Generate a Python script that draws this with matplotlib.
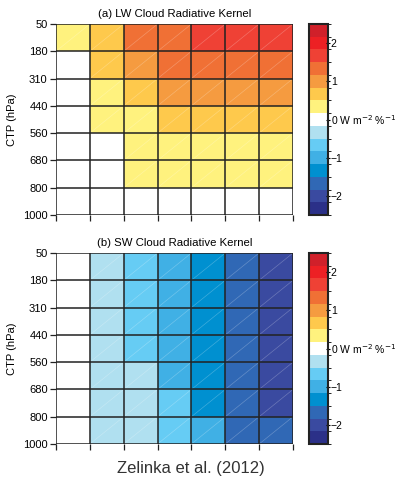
import numpy as np
import matplotlib
matplotlib.use("Agg")
import matplotlib.pyplot as plt
from matplotlib.colors import ListedColormap, BoundaryNorm

plt.rcParams['font.family'] = ['Liberation Sans', 'DejaVu Sans']

ctp_labels = ['50', '180', '310', '440', '560', '680', '800', '1000']

# kernel values (W m-2 %-1), rows top (50 hPa) to bottom, 7 tau bins
lw_kernel = [
    [0.33, 0.67, 1.33, 1.33, 1.67, 1.67, 1.67],
    [0.0, 0.67, 1.0, 1.33, 1.33, 1.33, 1.33],
    [0.0, 0.33, 0.67, 1.0, 1.0, 1.0, 1.0],
    [0.0, 0.33, 0.33, 0.67, 0.67, 0.67, 0.67],
    [0.0, 0.0, 0.33, 0.33, 0.33, 0.33, 0.33],
    [0.0, 0.0, 0.33, 0.33, 0.33, 0.33, 0.33],
    [0.0, 0.0, 0.0, 0.0, 0.0, 0.0, 0.0],
]
sw_kernel = [
    [0.0, -0.33, -0.67, -1.0, -1.33, -1.67, -2.0],
    [0.0, -0.33, -0.67, -1.0, -1.33, -1.67, -2.0],
    [0.0, -0.33, -0.67, -1.0, -1.33, -1.67, -2.0],
    [0.0, -0.33, -0.67, -1.0, -1.33, -1.67, -2.0],
    [0.0, -0.33, -0.33, -1.0, -1.33, -1.67, -2.0],
    [0.0, -0.33, -0.33, -0.67, -1.33, -1.67, -2.0],
    [0.0, -0.33, -0.33, -0.67, -1.0, -1.67, -1.67],
]

level_colors = ['#2b3088', '#3a4aa0', '#3068b5', '#0090d0', '#40b0e5', '#66ccf4', '#b0e0f0',
                '#ffffff',
                '#fff27e', '#fec94c', '#f59b40', '#f07035', '#ef4135', '#ed2024', '#d0202a']
bounds = np.linspace(-2.5, 2.5, 16)
cmap = ListedColormap(level_colors)
norm = BoundaryNorm(bounds, cmap.N)

W, H = 395, 479
fig = plt.figure(figsize=(W / 100, H / 100), dpi=100)

panels = [
    (lw_kernel, '(a) LW Cloud Radiative Kernel', 215),
    (sw_kernel, '(b) SW Cloud Radiative Kernel', 444),
]

for data, title, bottom_px in panels:
    arr = np.array(data)
    ax = fig.add_axes([56 / W, 1 - bottom_px / H, 237 / W, 191 / H])
    ax.pcolormesh(np.arange(8), np.arange(8), arr, cmap=cmap, norm=norm)
    # faint diagonal streaks seen in each cell
    for i in range(7):
        for j in range(7):
            ax.plot([j, j + 1], [i + 1, i], color='white', lw=0.5, alpha=0.25)
    for k in range(8):
        ax.axhline(k, color='#222222', lw=1.1)
        ax.axvline(k, color='#222222', lw=1.1)
    ax.set_xlim(0, 7)
    ax.set_ylim(7, 0)
    ax.set_yticks(range(8))
    ax.set_yticklabels(ctp_labels, fontsize=8)
    ax.set_xticks(range(8))
    ax.set_xticklabels([])
    ax.tick_params(length=4, width=0.9, color='#222222', pad=2)
    for s in ax.spines.values():
        s.set_visible(False)
    ax.set_ylabel('CTP (hPa)', fontsize=8, labelpad=4)
    ax.set_title(title, fontsize=8.2, pad=5)

    cax = fig.add_axes([309 / W, 1 - bottom_px / H, 19 / W, 191 / H])
    cb = fig.colorbar(plt.cm.ScalarMappable(norm=norm, cmap=cmap), cax=cax,
                      boundaries=bounds, ticks=[-2, -1, 0, 1, 2])
    cb.ax.set_yticklabels(['\u22122', '\u22121', '0 W m$^{-2}$ %$^{-1}$', '1', '2'], fontsize=7.5)
    cb.ax.tick_params(length=3, width=0.8, direction='inout', pad=0.5)
    cb.outline.set_linewidth(1.5)
    cb.outline.set_edgecolor('#222222')

fig.text(191 / W, 1 - 469 / H, 'Zelinka et al. (2012)', ha='center', va='center',
         fontsize=12, color='#333333')

fig.savefig('out.png', dpi=100)
